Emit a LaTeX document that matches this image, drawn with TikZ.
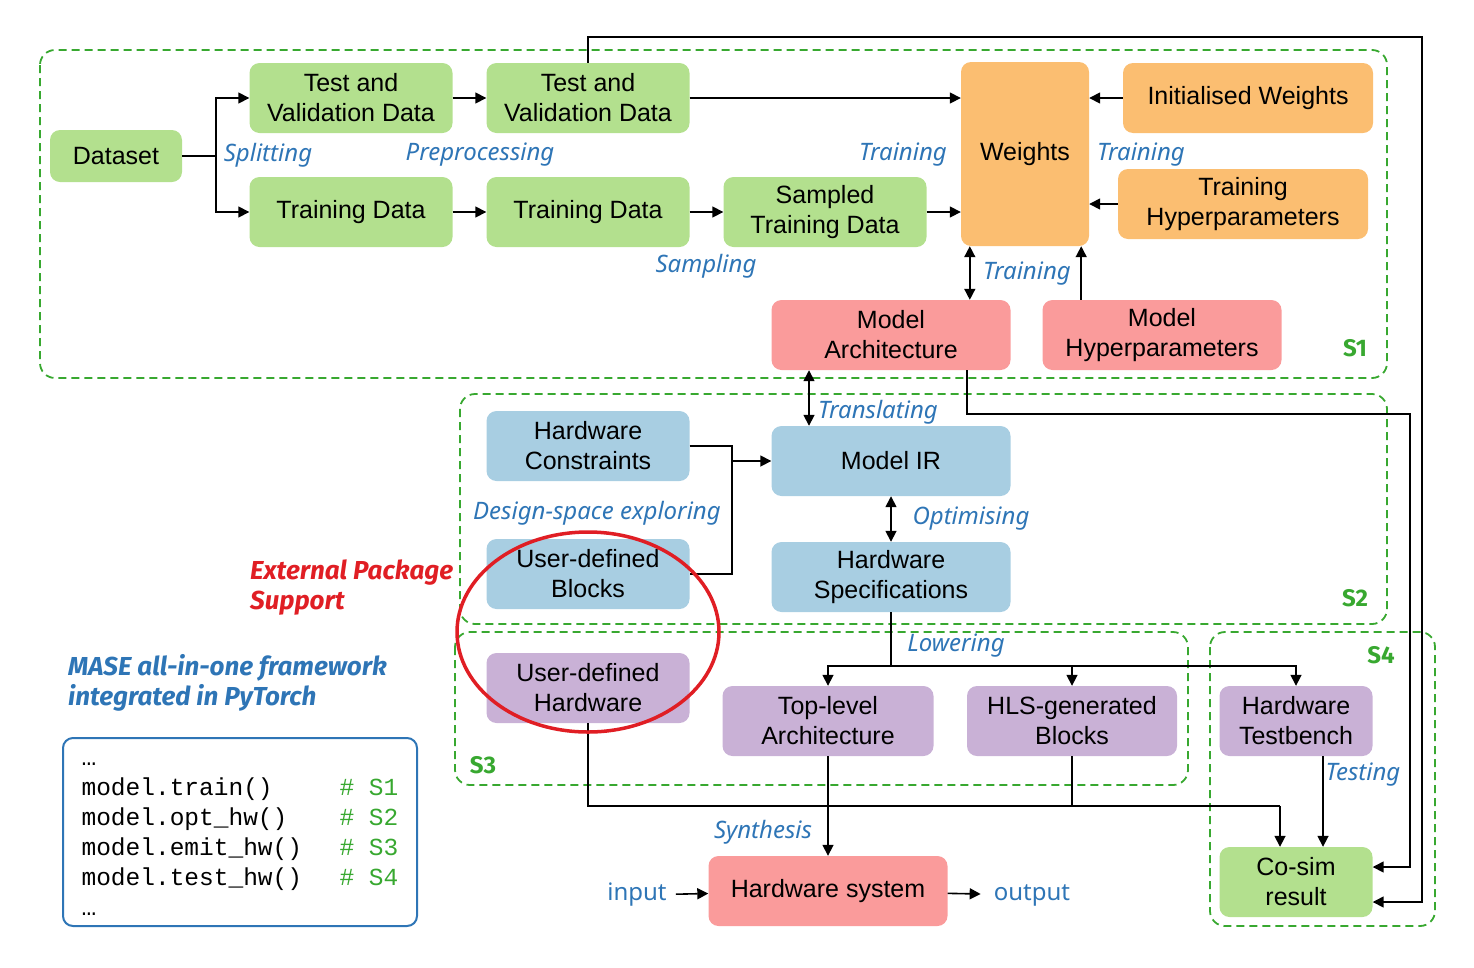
\documentclass[tikz,border=0pt]{standalone}
\usepackage{fontspec}
\setmainfont{Liberation Sans}
\setmonofont{Liberation Mono}
\newfontfamily\notofont{Noto Sans}
\newfontfamily\firafont{Fira Sans}
\usetikzlibrary{arrows.meta}

\definecolor{gfill}{RGB}{179,224,142}
\definecolor{ofill}{RGB}{251,190,113}
\definecolor{rfill}{RGB}{250,155,155}
\definecolor{bfill}{RGB}{168,206,226}
\definecolor{pfill}{RGB}{201,177,214}
\definecolor{stagegreen}{RGB}{56,168,48}
\definecolor{lblblue}{RGB}{46,117,182}
\definecolor{extred}{RGB}{224,30,36}

\tikzset{
  box/.style={rounded corners=10pt, minimum height=70pt, align=center, inner sep=2pt,
    font=\fontsize{25}{30}\selectfont},
  gbox/.style={box, fill=gfill},
  obox/.style={box, fill=ofill},
  rbox/.style={box, fill=rfill},
  bbox/.style={box, fill=bfill},
  pbox/.style={box, fill=pfill},
  lbl/.style={inner sep=0pt, text=lblblue, font=\notofont\itshape\fontsize{24}{28}\selectfont},
  stage/.style={draw=stagegreen, line width=1.8pt, dash pattern=on 8pt off 5pt, rounded corners=15pt},
  stagelbl/.style={inner sep=0pt, text=stagegreen, font=\firafont\bfseries\fontsize{24}{28}\selectfont},
  conn/.style={line width=1.6pt, -{Triangle[length=11pt,width=11pt]}},
  bothconn/.style={line width=1.6pt, {Triangle[length=11pt,width=11pt]}-{Triangle[length=11pt,width=11pt]}},
  wire/.style={line width=1.6pt},
}

\begin{document}
\begin{tikzpicture}[x=1pt, y=-1pt]
  \useasboundingbox (0,0) rectangle (1474,967);

  % stages
  \draw[stage] (40,50) rectangle (1387,378);
  \draw[stage] (460,394) rectangle (1387,624);
  \draw[stage] (455,632) rectangle (1188,785);
  \draw[stage] (1210,632) rectangle (1435,926);
  \node[stagelbl] (s1) at (1355,348) {S1};
  \node[stagelbl] (s2) at (1355,598) {S2};
  \node[stagelbl] (s3) at (483,765) {S3};
  \node[stagelbl] (s4) at (1381,655) {S4};

  % S1
  \node[gbox, minimum width=132pt, minimum height=52pt] (data) at (116,156) {Dataset};
  \node[gbox, minimum width=203pt] (tv1) at (351,98) {Test and\\Validation Data};
  \node[gbox, minimum width=203pt] (tv2) at (588,98) {Test and\\Validation Data};
  \node[gbox, minimum width=203pt] (td1) at (351,212) {Training Data};
  \node[gbox, minimum width=203pt] (td2) at (588,212) {Training Data};
  \node[gbox, minimum width=203pt] (std) at (825,212) {Sampled\\Training Data};
  \node[obox, minimum width=128pt, minimum height=184pt] (w) at (1025,154) {Weights};
  \node[obox, minimum width=250pt] (iw) at (1248,98) {Initialised Weights};
  \node[obox, minimum width=250pt] (thp) at (1243,204) {Training\\Hyperparameters};
  \node[rbox, minimum width=239pt] (ma) at (891,335) {Model\\Architecture};
  \node[rbox, minimum width=239pt] (mhp) at (1162,335) {Model\\Hyperparameters};

  % S2
  \node[bbox, minimum width=203pt] (hc) at (588,446) {Hardware\\Constraints};
  \node[bbox, minimum width=239pt] (mir) at (891,461) {Model IR};
  \node[bbox, minimum width=203pt] (ub) at (588,574) {User-defined\\Blocks};
  \node[bbox, minimum width=239pt] (hs) at (891,577) {Hardware\\Specifications};

  % S3 and S4
  \node[pbox, minimum width=203pt] (uh) at (588,688) {User-defined\\Hardware};
  \node[pbox, minimum width=211pt] (tla) at (828,721) {Top-level\\Architecture};
  \node[pbox, minimum width=210pt] (hls) at (1072,721) {HLS-generated\\Blocks};
  \node[pbox, minimum width=153pt] (htb) at (1296,721) {Hardware\\Testbench};
  \node[gbox, minimum width=153pt] (cosim) at (1296,882) {Co-sim\\result};
  \node[rbox, minimum width=239pt] (hsys) at (828,891) {Hardware system};
  \node[lbl, font=\notofont\fontsize{24}{28}\selectfont, inner sep=9pt] (in) at (637,895) {input};
  \node[lbl, font=\notofont\fontsize{24}{28}\selectfont, inner sep=13pt] (out) at (1032,895) {output};

  % connectors
  \coordinate (sp) at (216,156);
  \draw[wire] (data) -- (sp);
  \draw[conn] (sp) |- (tv1);
  \draw[conn] (sp) |- (td1);
  \draw[conn] (tv1) -- (tv2);
  \draw[conn] (td1) -- (td2);
  \draw[conn] (td2) -- (std);
  \draw[conn] (tv2) -- (tv2 -| w.west);
  \draw[conn] (std) -- (std -| w.west);
  \draw[conn] (iw) -- (iw -| w.east);
  \draw[conn] (thp) -- (thp -| w.east);
  \draw[bothconn] ([xshift=9pt]w.south west) -- ([xshift=9pt]w.south west |- ma.north);
  \draw[conn] ([xshift=-8pt]w.south east |- mhp.north) -- ([xshift=-8pt]w.south east);
  \coordinate (topr) at (1422,37);
  \draw[conn] (tv2.north) |- (topr) |- ([yshift=-20pt]cosim.east);
  \coordinate (midr) at (1410,414);
  \draw[conn] ([xshift=76pt]ma.south) |- (midr) |- ([yshift=15pt]cosim.east);
  \draw[bothconn] ([xshift=-82pt]ma.south) -- ([xshift=-82pt]ma.south |- mir.north);
  \coordinate (jn) at (732,461);
  \draw[wire] (hc.east) -| (jn) |- (ub.east);
  \draw[conn] (jn) -- (mir.west);
  \draw[bothconn] (mir) -- (hs);
  \coordinate (lw) at (891,666);
  \draw[wire] (hs.south) -- (lw);
  \draw[conn] (lw) -| (tla);
  \draw[conn] (lw) -| (hls);
  \draw[conn] (lw) -| (htb);
  \coordinate (jb) at (1280,806);
  \draw[wire] (uh.south) |- (jb);
  \draw[wire] (hls.south) -- (hls.south |- jb);
  \draw[conn] (jb) -- (jb |- cosim.north);
  \draw[conn] (tla) -- (hsys);
  \draw[conn] ([xshift=27pt]htb.south) -- ([xshift=27pt]htb.south |- cosim.north);
  \draw[conn] (in) -- (hsys);
  \draw[conn] (hsys) -- (out);

  % step labels
  \node[lbl] (split) at (268,155) {Splitting};
  \node[lbl] (prep) at (480,155) {Preprocessing};
  \node[lbl] (train1) at (903,155) {Training};
  \node[lbl] (train2) at (1141,155) {Training};
  \node[lbl] (samp) at (706,266) {Sampling};
  \node[lbl] (train3) at (1027,274) {Training};
  \node[lbl] (transl) at (878,412) {Translating};
  \node[lbl] (dse) at (597,513) {Design-space exploring};
  \node[lbl] (opt) at (971,519) {Optimising};
  \node[lbl] (lower) at (956,646) {Lowering};
  \node[lbl] (synth) at (763,832) {Synthesis};
  \node[lbl] (test) at (1363,775) {Testing};

  % external package
  \draw[extred, line width=3.5pt] (588,632) ellipse [x radius=131pt, y radius=100pt];
  \node[anchor=west, align=left, inner sep=0pt, text=extred,
    font=\firafont\bfseries\itshape\fontsize{26}{30}\selectfont] (ext) at (250,588) {External Package\\Support};

  % framework and code
  \node[anchor=west, align=left, inner sep=0pt, text=lblblue,
    font=\firafont\bfseries\itshape\fontsize{26}{30}\selectfont] (mase) at (68,683) {MASE all-in-one framework\\integrated in PyTorch};
  \node[draw=lblblue, line width=2pt, rounded corners=10pt, minimum width=354pt, minimum height=188pt,
    align=left, inner sep=0pt, font=\ttfamily\fontsize{24.5}{30}\selectfont] (code) at (240,832)
    {\makebox[258pt][l]{…}\phantom{\# S1}\\
     \makebox[258pt][l]{model.train()}\textcolor{stagegreen}{\# S1}\\
     \makebox[258pt][l]{model.opt\_hw()}\textcolor{stagegreen}{\# S2}\\
     \makebox[258pt][l]{model.emit\_hw()}\textcolor{stagegreen}{\# S3}\\
     \makebox[258pt][l]{model.test\_hw()}\textcolor{stagegreen}{\# S4}\\
     \makebox[258pt][l]{…}\phantom{\# S4}};
\end{tikzpicture}
\end{document}
